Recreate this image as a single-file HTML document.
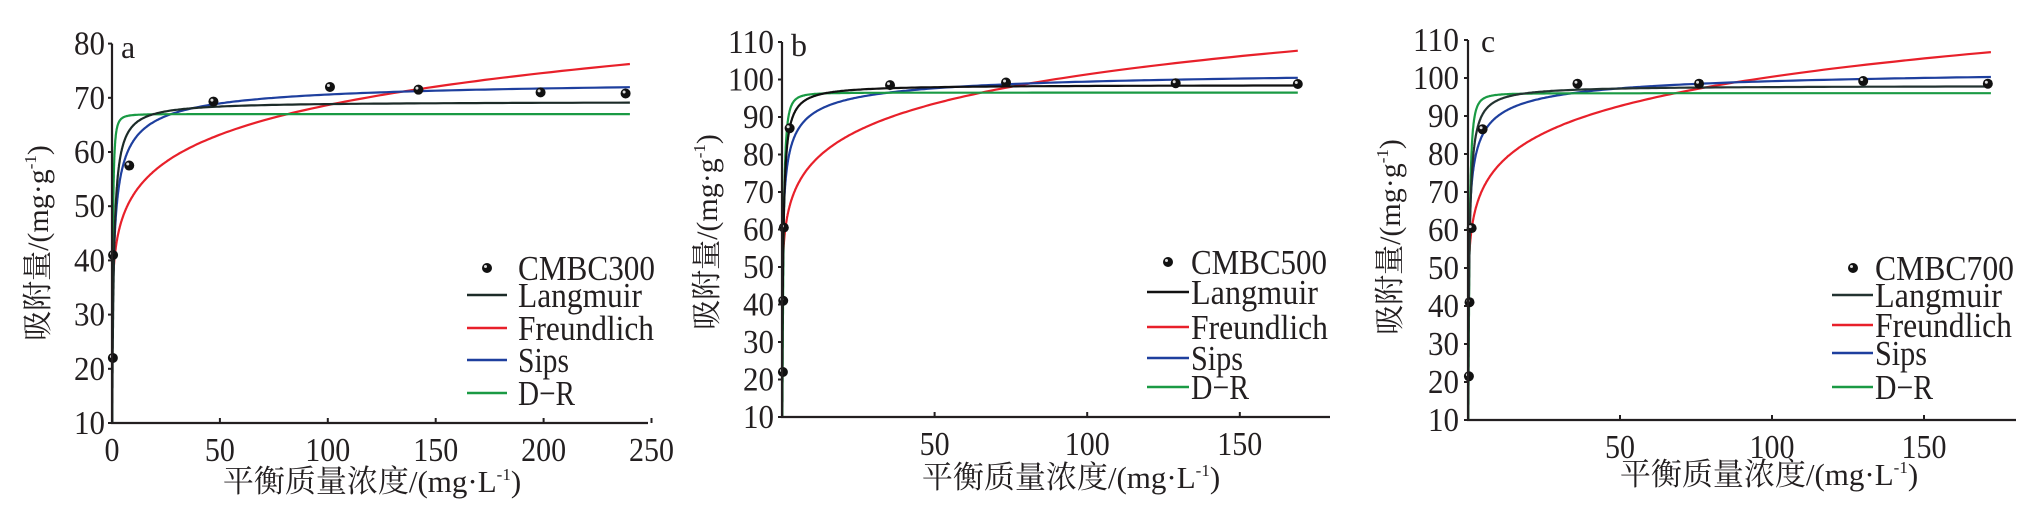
<!DOCTYPE html>
<html><head><meta charset="utf-8"><style>
html,body{margin:0;padding:0;background:#fff;}
svg{display:block;}
text{font-family:"Liberation Serif","Noto Serif CJK SC","Noto Sans CJK SC",serif;fill:#231f20;}
</style></head><body>
<svg id="s" width="2037" height="516" viewBox="0 0 2037 516" xmlns="http://www.w3.org/2000/svg"></svg>
<script>
const S=document.getElementById('s');let h='';
const panels=[
 {x0:112,xs:107.9/50,xend:648,y10:423,ys:54.2,ymax:80,xt:[0,50,100,150,200,250],lab:'a',labx:121,laby:58,
  tickR:105,ylx:38,yly:243,xlx:372,xly:492,
  pts:[[0.4,22],[0.5,41],[8,57.5],[47,69.3],[101,72],[142,71.5],[198.6,71],[238,70.8]],
  L:[69.3,1.5],F:[39.6,0.1195],Sp:[74,1.57,0.6],DR:[67,0.3],cmax:240,
  leg:{mx:487,my:268,lx1:467,lx2:507,tx:518,rows:[295,328,360,393],tw:[137,124,136,51,57],name:'CMBC300'},lc:'#1c2b28'},
 {x0:782,xs:152.6/50,xend:1330,y10:417,ys:37.5,ymax:110,xt:[50,100,150],lab:'b',labx:791,laby:56,
  tickR:774,ylx:707,yly:232,xlx:1071,xly:488,
  pts:[[0.3,22],[0.4,41],[0.6,60.5],[2.5,87],[35.4,98.5],[73.4,99.2],[129,99],[169,98.8]],
  L:[98.6,3],F:[59.6,0.1153],Sp:[104,4.75,0.5],DR:[96.5,0.46],cmax:169,
  leg:{mx:1168,my:262,lx1:1147,lx2:1189,tx:1191,rows:[292,327,358,387],tw:[136,127,137,52,58],name:'CMBC500'},lc:'#111'},
 {x0:1468,xs:152/50,xend:2016,y10:420,ys:38,ymax:110,xt:[50,100,150],lab:'c',labx:1481,laby:52,
  tickR:1459,ylx:1390,yly:237,xlx:1769,xly:485,
  pts:[[0.3,21.5],[0.5,41],[1.2,60.5],[4.8,86.5],[36,98.5],[76,98.5],[130,99.2],[171,98.5]],
  L:[98,2.5],F:[59,0.1153],Sp:[104,4.2,0.5],DR:[96,0.46],cmax:172,
  leg:{mx:1853,my:268,lx1:1832,lx2:1873,tx:1875,rows:[295,325,353,387],tw:[139,127,137,52,58],name:'CMBC700'},lc:'#233331'}
];
panels.forEach((p,i)=>{
 const X=c=>p.x0+c*p.xs, Y=q=>p.y10-(q-10)/10*p.ys;
 const ytop=Y(p.ymax);
 h+=`<defs><clipPath id="c${i}"><rect x="${p.x0}" y="${ytop-20}" width="${p.xend-p.x0+10}" height="${p.y10-ytop+20}"/></clipPath></defs>`;
 const fns=[
  ['#e8202a',c=>p.F[0]*Math.pow(c,p.F[1])],
  ['#1e3f9e',c=>{const t=Math.pow(p.Sp[1]*c,p.Sp[2]);return p.Sp[0]*t/(1+t);}],
  ['#1a9a44',c=>{const e=Math.log(1+1/c);return p.DR[0]*Math.exp(-p.DR[1]*e*e);}],
  [p.lc,c=>p.L[0]*p.L[1]*c/(1+p.L[1]*c)]
 ];
 fns.forEach(([col,f])=>{
  let d='';
  for(let k=0;k<=400;k++){const c=0.02*Math.pow(p.cmax/0.02,k/400);let q=f(c);if(q<5)q=5;d+=(k?'L':'M')+X(c).toFixed(1)+','+Y(q).toFixed(1);}
  h+=`<path d="${d}" fill="none" stroke="${col}" stroke-width="2.2" clip-path="url(#c${i})"/>`;
 });
 p.pts.forEach(([c,q])=>{h+=`<circle cx="${X(c)}" cy="${Y(q)}" r="5" fill="#111"/><circle cx="${X(c)-1.5}" cy="${Y(q)-1.5}" r="1.5" fill="#ddd"/>`;});
 h+=`<path d="M${p.x0},${ytop} V${p.y10} H${p.xend}" fill="none" stroke="#231f20" stroke-width="2.2"/>`;
 for(let q=10;q<=p.ymax;q+=10){const y=Y(q);h+=`<line x1="${p.x0-4}" x2="${p.x0}" y1="${y}" y2="${y}" stroke="#231f20" stroke-width="2"/><text x="${p.tickR}" y="${y+11}" font-size="34" text-anchor="end" textLength="${q>=100?46:31}" lengthAdjust="spacingAndGlyphs">${q}</text>`;}
 p.xt.forEach(c=>{const x=X(c);const s=String(c);if(c>0)h+=`<line x1="${x}" x2="${x}" y1="${p.y10}" y2="${p.y10-5}" stroke="#231f20" stroke-width="2"/>`;h+=`<text x="${x}" y="${p.y10+38}" font-size="34" text-anchor="middle" textLength="${s.length*15}" lengthAdjust="spacingAndGlyphs">${c}</text>`;});
 h+=`<text x="${p.labx}" y="${p.laby}" font-size="32">${p.lab}</text>`;
 h+=`<text transform="translate(${p.ylx+10},${p.yly}) rotate(-90)" font-size="30" text-anchor="middle">吸附量/(mg·g<tspan font-size="17" dy="-12">-1</tspan><tspan dy="12">)</tspan></text>`;
 h+=`<text x="${p.xlx}" y="${p.xly}" font-size="31" text-anchor="middle">平衡质量浓度/(mg·L<tspan font-size="17" dy="-12">-1</tspan><tspan dy="12">)</tspan></text>`;
 const L=p.leg;
 h+=`<circle cx="${L.mx}" cy="${L.my}" r="5" fill="#111"/><circle cx="${L.mx-1.5}" cy="${L.my-1.5}" r="1.5" fill="#ddd"/>`;
 h+=`<text x="${L.tx}" y="${L.my+12}" font-size="35" textLength="${L.tw[0]}" lengthAdjust="spacingAndGlyphs">${L.name}</text>`;
 const names=['Langmuir','Freundlich','Sips','D−R'],cols=[p.lc,'#e8202a','#1e3f9e','#1a9a44'];
 L.rows.forEach((y,j)=>{h+=`<line x1="${L.lx1}" x2="${L.lx2}" y1="${y}" y2="${y}" stroke="${cols[j]}" stroke-width="2.6"/><text x="${L.tx}" y="${y+12}" font-size="35" textLength="${L.tw[j+1]}" lengthAdjust="spacingAndGlyphs">${names[j]}</text>`;});
});
S.innerHTML=h;
</script>
</body></html>
